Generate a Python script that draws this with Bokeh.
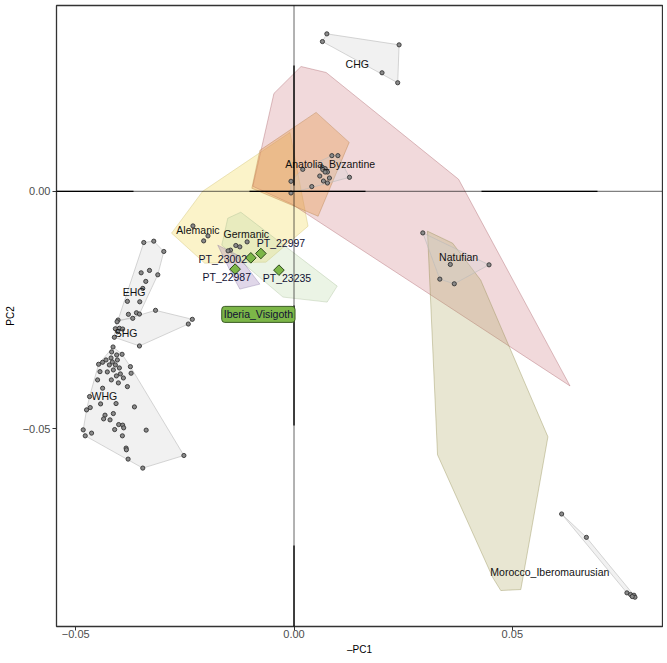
import numpy as np
from bokeh.plotting import figure
from bokeh.models import ColumnDataSource, Span, Label, FixedTicker
from bokeh.embed import file_html
from bokeh.resources import INLINE
from bokeh.core.properties import value

# ---------------- data (PC1 sign flipped, PC2) ----------------
chg_x = [0.00752, 0.00651, 0.02407, 0.02016, 0.02375]
chg_y = [0.03313, 0.03151, 0.03082, 0.02494, 0.02284]

anat_x = [0.00867, 0.01005, 0.0020, 0.00644, 0.00713, 0.00766, 0.0066, 0.00713,
          0.0059, 0.00811, 0.00674, 0.00766, 0.01271, 0.00407, -0.00069, -0.00069]
anat_y = [0.0075, 0.0075, 0.00462, 0.0051, 0.00477, 0.00405, 0.00456, 0.00405,
          0.00321, 0.00279, 0.00216, 0.00174, 0.00294, 0.00099, 0.0021, -0.00036]

natu_x = [0.0295, 0.0358, 0.04467, 0.0334, 0.03671]
natu_y = [-0.00876, -0.0154, -0.01548, -0.01849, -0.01947]

moro_x = [0.0613, 0.06697, 0.07625, 0.07708, 0.07786, 0.07809, 0.07747]
moro_y = [-0.06792, -0.07284, -0.08452, -0.08487, -0.08502, -0.08544, -0.0853]

ehg_x = [-0.03441, -0.03212, -0.02982, -0.03501, -0.03310, -0.03120, -0.03395, -0.03464,
         -0.03816, -0.03533, -0.03609, -0.03540, -0.03793, -0.03694, -0.04030]
ehg_y = [-0.01078, -0.01050, -0.01267, -0.01716, -0.01666, -0.01758, -0.01897, -0.02044,
         -0.02317, -0.02326, -0.02557, -0.02584, -0.02590, -0.02674, -0.02710]

shg_x = [-0.03172, -0.02329, -0.02421, -0.03540, -0.04092, -0.04000, -0.03924, -0.04039,
         -0.04115, -0.04053]
shg_y = [-0.02506, -0.02695, -0.02794, -0.03256, -0.02893, -0.02884, -0.02899, -0.02956,
         -0.03073, -0.02746]

whg_x = [-0.04145, -0.04177, -0.04062, -0.03938, -0.04191, -0.04476, -0.04384, -0.04306,
         -0.04230, -0.04161, -0.04092, -0.04046, -0.04000, -0.04138, -0.04276, -0.04069,
         -0.03977, -0.03908, -0.04184, -0.04023, -0.03747, -0.03731, -0.04444, -0.04499,
         -0.03816, -0.04384, -0.04683, -0.04430, -0.04076, -0.03655, -0.04667, -0.04752,
         -0.04138, -0.04329, -0.04361, -0.04214, -0.04016, -0.03924, -0.03901, -0.04108,
         -0.03386, -0.04828, -0.04637, -0.04782, -0.03931, -0.03846, -0.03839, -0.03800,
         -0.03464, -0.02522]
whg_y = [-0.03277, -0.03382, -0.03445, -0.03431, -0.03508, -0.03641, -0.03599, -0.03550,
         -0.03655, -0.03592, -0.03655, -0.03550, -0.03718, -0.03760, -0.03802, -0.03886,
         -0.03844, -0.03929, -0.03970, -0.04033, -0.03691, -0.03830, -0.03796, -0.03970,
         -0.04111, -0.04145, -0.04321, -0.04475, -0.04468, -0.04538, -0.04552, -0.04601,
         -0.04678, -0.04712, -0.04790, -0.04811, -0.04910, -0.04922, -0.04979, -0.05015,
         -0.05027, -0.05021, -0.05090, -0.05147, -0.05147, -0.05405, -0.05441, -0.05637,
         -0.05826, -0.05561]

alem_x = [-0.02315, -0.01970, -0.02069]
alem_y = [-0.00729, -0.00939, -0.01044]
germ_x = [-0.01074, -0.01333, -0.01241, -0.01455, -0.01510]
germ_y = [-0.01065, -0.01141, -0.01170, -0.01239, -0.01254]

# focal samples
pt_names = ["PT_22997", "PT_23002", "PT_22987", "PT_23235"]
pt_x = [-0.00759, -0.00989, -0.01349, -0.00345]
pt_y = [-0.01309, -0.01401, -0.01639, -0.01660]
pt_lab_x = [-0.00299, -0.01632, -0.01540, -0.00161]
pt_lab_y = [-0.01099, -0.01435, -0.01800, -0.01821]

# reference hulls without plotted points
pink_x = [-0.0046, 0.00161, 0.00736, 0.0377, 0.06322, -0.00046, -0.00943]
pink_y = [0.02059, 0.02626, 0.025, 0.00252, -0.04097, -0.00273, 0.00105]
orange_x = [0.00506, 0.01264, 0.00552, -0.00966, -0.00782]
orange_y = [0.0166, 0.01029, -0.00525, 0.00063, 0.00861]
yellow_x = [-0.02805, -0.02092, -0.00092, 0.00322, -0.00644, -0.02046]
yellow_y = [-0.00882, 0.0, 0.01239, -0.00735, -0.01492, -0.01513]
olive_x = [0.03057, 0.03632, 0.04276, 0.05816, 0.05195, 0.04736, 0.04552, 0.03287]
olive_y = [-0.0084, -0.01092, -0.0187, -0.05168, -0.08382, -0.08403, -0.0813, -0.05546]
green_x = [-0.01517, -0.01218, 0.00989, 0.00759, -0.00253, -0.01655]
green_y = [-0.00567, -0.00441, -0.01996, -0.02332, -0.02227, -0.01134]
purple_x = [-0.01747, -0.01287, -0.00782, -0.01241, -0.01448]
purple_y = [-0.01134, -0.01345, -0.01954, -0.02059, -0.01702]

group_names = ["CHG", "Anatolia_Byzantine", "Natufian", "Morocco_Iberomaurusian",
               "EHG", "SHG", "WHG", "Alemanic", "Germanic"]
group_lab_x = [0.01448, 0.00828, 0.0377, 0.0586, -0.03662, -0.03846, -0.04345, -0.0220, -0.01092]
group_lab_y = [0.02689, 0.00567, -0.01387, -0.0802, -0.02115, -0.02989, -0.04307, -0.00819, -0.00889]

focal_label = "Iberia_Visigoth"
focal_label_x = -0.00816
focal_label_y = -0.02591

x_ticks = [-0.05, 0.0, 0.05]
y_ticks = [-0.05, 0.0]


def hull(xs, ys):
    pts = sorted(set(zip(xs, ys)))
    if len(pts) < 3:
        return [p[0] for p in pts], [p[1] for p in pts]

    def cross(o, a, b):
        return (a[0] - o[0]) * (b[1] - o[1]) - (a[1] - o[1]) * (b[0] - o[0])

    lower = []
    for pnt in pts:
        while len(lower) >= 2 and cross(lower[-2], lower[-1], pnt) <= 0:
            lower.pop()
        lower.append(pnt)
    upper = []
    for pnt in reversed(pts):
        while len(upper) >= 2 and cross(upper[-2], upper[-1], pnt) <= 0:
            upper.pop()
        upper.append(pnt)
    h = lower[:-1] + upper[:-1]
    return [q[0] for q in h], [q[1] for q in h]


p = figure(width=663, height=657, output_backend="svg", toolbar_location=None,
           x_range=(-0.0544, 0.0844), y_range=(-0.0916, 0.0391),
           min_border_left=56, min_border_right=1, min_border_top=5, min_border_bottom=30)
p.background_fill_color = "white"
p.border_fill_color = "white"
p.outline_line_color = "#333333"
p.outline_line_width = 1.3
p.xgrid.visible = False
p.ygrid.visible = False

# coloured reference hulls
for xs, ys, fc, lc, a in [
    (yellow_x, yellow_y, "#f5e070", "#c8b860", 0.38),
    (pink_x, pink_y, "#c0505a", "#a05058", 0.22),
    (orange_x, orange_y, "#e89a50", "#b07840", 0.38),
    (olive_x, olive_y, "#a8a050", "#888040", 0.26),
    (green_x, green_y, "#b8d8a0", "#a0b890", 0.28),
    (purple_x, purple_y, "#9070b0", "#8070a0", 0.28),
]:
    p.patch(xs, ys, fill_color=fc, fill_alpha=a, line_color=lc, line_alpha=0.35, line_width=1)

# grey hulls of plotted groups
grey_groups = [(chg_x, chg_y), (anat_x, anat_y), (natu_x, natu_y), (moro_x, moro_y),
               (ehg_x, ehg_y), (shg_x, shg_y), (whg_x, whg_y)]
hx, hy = [], []
for xs, ys in grey_groups:
    a, b = hull(xs, ys)
    hx.append(a)
    hy.append(b)
p.patches(hx, hy, fill_color="#cfcfcf", fill_alpha=0.3, line_color="#bbbbbb", line_alpha=0.6, line_width=1)

# crosshair
p.add_layout(Span(location=0, dimension="width", line_color="black", line_width=1.2, line_dash="1 1"))
p.add_layout(Span(location=0, dimension="height", line_color="black", line_width=1.2, line_dash="1 1"))
p.add_layout(Span(location=0, dimension="width", line_color="black", line_width=1.3,
                  line_dash="116 116", line_dash_offset=39))
p.add_layout(Span(location=0, dimension="height", line_color="black", line_width=1.3,
                  line_dash="120 120", line_dash_offset=180))

# points
all_x = chg_x + anat_x + natu_x + moro_x + ehg_x + shg_x + whg_x + alem_x + germ_x
all_y = chg_y + anat_y + natu_y + moro_y + ehg_y + shg_y + whg_y + alem_y + germ_y
p.scatter(all_x, all_y, marker="circle", size=4.2, fill_color="#8a8a8a", line_color="#333333", line_width=0.9)

p.scatter(pt_x, pt_y, marker="square", angle=np.pi / 4, size=7.5, fill_color="#7cb648",
          line_color="#2e4a1c", line_width=1)

lab_font = value("Liberation Sans")
p.text(group_lab_x, group_lab_y, text=group_names, text_font=lab_font, text_font_size="10.5px",
       text_color="#111111", text_align="center", text_baseline="middle")
p.text(pt_lab_x, pt_lab_y, text=pt_names, text_font=lab_font, text_font_size="10.5px",
       text_color="#111133", text_align="center", text_baseline="middle")

p.add_layout(Label(x=focal_label_x, y=focal_label_y, text=focal_label, text_font="Liberation Sans",
                   text_font_size="10.5px", text_color="#111133", text_align="center",
                   text_baseline="middle", background_fill_color="#7cb648",
                   border_line_color="#3a5a24", border_line_width=1, padding=2, border_radius=3))

# axes
p.xaxis.ticker = FixedTicker(ticks=x_ticks)
p.yaxis.ticker = FixedTicker(ticks=y_ticks)
p.xaxis.major_label_overrides = {-0.05: "\u22120.05", 0.0: "0.00", 0.05: "0.05"}
p.yaxis.major_label_overrides = {-0.05: "\u22120.05", 0.0: "0.00"}
for ax in (p.xaxis, p.yaxis):
    ax.axis_line_color = None
    ax.major_tick_line_color = "#333333"
    ax.major_tick_in = 0
    ax.major_tick_out = 4
    ax.minor_tick_line_color = None
    ax.major_label_text_font = "Liberation Sans"
    ax.major_label_text_font_size = "11px"
    ax.major_label_text_color = "#4d4d4d"
    ax.axis_label_text_font = "Liberation Sans"
    ax.axis_label_text_font_size = "10px"
    ax.axis_label_text_font_style = "normal"
    ax.axis_label_text_color = "black"
p.xaxis.major_label_standoff = -1
p.xaxis.axis_label_standoff = 3
p.yaxis.major_label_standoff = 2
p.yaxis.axis_label_standoff = 4
p.xaxis.axis_label = "\u2013PC1"
p.yaxis.axis_label = "PC2"

open("out.html", "w").write(file_html(p, INLINE))
